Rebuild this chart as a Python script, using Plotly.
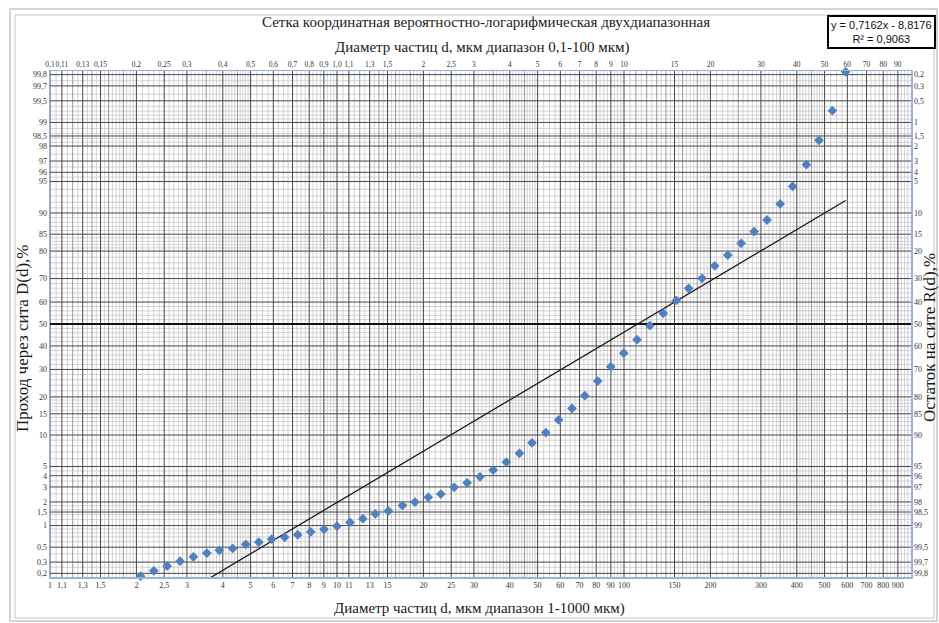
import plotly.graph_objects as go
from statistics import NormalDist

nd = NormalDist()

# ---------------- data ----------------
diam_um = [2.07, 2.30, 2.56, 2.84, 3.16, 3.52, 3.89, 4.33, 4.81, 5.34,
           5.92, 6.57, 7.30, 8.10, 9.01, 10.0, 11.1, 12.3, 13.6, 15.1,
           16.9, 18.7, 20.8, 23.0, 25.6, 28.4, 31.5, 35.0, 38.9, 43.2,
           47.8, 53.4, 59.2, 65.9, 73.0, 81.0, 89.9, 99.8, 111, 123,
           137, 152, 168, 187, 207, 230, 256, 284, 315, 350,
           387, 432, 478, 532, 592]
passing_pct = [0.18, 0.22, 0.26, 0.31, 0.36, 0.41, 0.45, 0.48, 0.55, 0.59,
               0.65, 0.69, 0.75, 0.82, 0.89, 0.98, 1.10, 1.23, 1.42, 1.55,
               1.81, 1.99, 2.27, 2.48, 2.97, 3.34, 3.89, 4.59, 5.55, 6.77,
               8.52, 10.5, 13.4, 16.5, 20.4, 25.5, 31.1, 36.8, 42.8, 49.2,
               54.9, 60.7, 66.0, 70.1, 74.9, 78.7, 82.4, 85.7, 88.5, 91.7,
               94.4, 96.7, 98.3, 99.31, 99.82]

# linear trendline (as drawn in the picture), endpoints over the data range
trend_d = [2.07, 592]
trend_pct = [0.033, 92.3]

bottom_ticks = [1, 1.1, 1.3, 1.5, 2, 2.5, 3, 4, 5, 6, 7, 8, 9,
                10, 11, 13, 15, 20, 25, 30, 40, 50, 60, 70, 80, 90,
                100, 150, 200, 300, 400, 500, 600, 700, 800, 900]
bottom_text = ["1", "1,1", "1,3", "1,5", "2", "2,5", "3", "4", "5", "6", "7", "8", "9",
               "10", "11", "13", "15", "20", "25", "30", "40", "50", "60", "70", "80", "90",
               "100", "150", "200", "300", "400", "500", "600", "700", "800", "900"]
top_ticks = [0.1, 0.11, 0.13, 0.15, 0.2, 0.25, 0.3, 0.4, 0.5, 0.6, 0.7, 0.8, 0.9,
             1.0, 1.1, 1.3, 1.5, 2, 2.5, 3, 4, 5, 6, 7, 8, 9,
             10, 15, 20, 30, 40, 50, 60, 70, 80, 90]
top_text = ["0,1", "0,11", "0,13", "0,15", "0,2", "0,25", "0,3", "0,4", "0,5", "0,6", "0,7", "0,8", "0,9",
            "1,0", "1,1", "1,3", "1,5", "2", "2,5", "3", "4", "5", "6", "7", "8", "9",
            "10", "15", "20", "30", "40", "50", "60", "70", "80", "90"]
left_pct = [99.8, 99.7, 99.5, 99, 98.5, 98, 97, 96, 95, 90, 85, 80, 70, 60, 50,
            40, 30, 20, 15, 10, 5, 4, 3, 2, 1.5, 1, 0.5, 0.3, 0.2]
left_text = ["99,8", "99,7", "99,5", "99", "98,5", "98", "97", "96", "95", "90", "85", "80", "70", "60", "50",
             "40", "30", "20", "15", "10", "5", "4", "3", "2", "1,5", "1", "0,5", "0,3", "0,2"]
right_pct = [0.2, 0.3, 0.5, 1, 1.5, 2, 3, 4, 5, 10, 15, 20, 30, 40, 50, 60, 70,
             80, 85, 90, 95, 96, 97, 98, 98.5, 99, 99.5, 99.7, 99.8]
right_text = ["0,2", "0,3", "0,5", "1", "1,5", "2", "3", "4", "5", "10", "15", "20", "30", "40", "50", "60", "70",
              "80", "85", "90", "95", "96", "97", "98", "98,5", "99", "99,5", "99,7", "99,8"]

# ---------------- helpers ----------------
def probit(p_pct):
    return nd.inv_cdf(p_pct / 100.0)

Z_LIM = 2.92
X_LOG = [0, 3]

W, H = 939, 623
ML, MR, MT, MB = 50, 28, 71, 46
PW, PH = W - ML - MR, H - MT - MB

def fx(xp):
    return (xp - ML) / PW

def fy(yp):
    return (H - MB - yp) / PH

def frange(a, b, s):
    out, v = [], a + s
    while v < b - 1e-9:
        out.append(round(v, 6))
        v += s
    return out

def contains(lst, v):
    return any(abs(v - t) < 1e-6 * max(1, abs(t)) for t in lst)

# ---------------- grid ----------------
dark_v = list(bottom_ticks)
medium_v, light_v = [], []
for dec in (1, 10, 100):
    for m in [1.1, 1.2, 1.3, 1.4, 1.6, 1.8, 2.5, 3.5, 4.5]:
        v = round(m * dec, 6)
        if not contains(dark_v, v):
            medium_v.append(v)
    for a, b, s in [(1, 2, 0.05), (2, 5, 0.1), (5, 10, 0.25)]:
        for m in frange(a, b, s):
            v = round(m * dec, 6)
            if not contains(dark_v, v) and not contains(medium_v, v):
                light_v.append(v)

dark_h = [p for p in left_pct if p != 50]
light_base = [0.25, 0.4, 0.6, 0.7, 0.8, 0.9, 1.2, 1.4, 1.6, 1.8, 2.5, 3.5, 4.5,
              6, 7, 8, 9, 11, 12, 13, 14, 16, 17, 18, 19, 22, 24, 26, 28,
              32, 34, 36, 38, 42, 44, 46, 48]
light_h = light_base + [round(100 - v, 6) for v in light_base]


def grid_xy(vlist, hlist):
    xs, ys = [], []
    for v in vlist:
        xs += [v, v, None]
        ys += [-Z_LIM, Z_LIM, None]
    for p in hlist:
        z = probit(p)
        xs += [1, 1000, None]
        ys += [z, z, None]
    return xs, ys


fig = go.Figure()

for vl, hl, col, wid in [(light_v, light_h, "#c6c6c6", 0.8),
                         (medium_v, [], "#8c8c8c", 0.9),
                         (dark_v, dark_h, "#474747", 1.0),
                         ([], [50], "#111111", 2.0)]:
    gx, gy = grid_xy(vl, hl)
    fig.add_trace(go.Scatter(x=gx, y=gy, mode="lines",
                             line=dict(color=col, width=wid),
                             hoverinfo="skip", showlegend=False))

# trendline
fig.add_trace(go.Scatter(x=trend_d, y=[probit(p) for p in trend_pct], mode="lines",
                         line=dict(color="#1a1a1a", width=1.3),
                         hoverinfo="skip", showlegend=False))

# data points
fig.add_trace(go.Scatter(x=diam_um, y=[probit(p) for p in passing_pct], mode="markers",
                         marker=dict(symbol="diamond", size=7.5, color="#4F81BD",
                                     line=dict(width=0)),
                         cliponaxis=False, showlegend=False))

# empty trace so that the top / right scales are drawn
fig.add_trace(go.Scatter(x=[], y=[], xaxis="x2", yaxis="y2", mode="markers",
                         hoverinfo="skip", showlegend=False))

tick_font = dict(family="Liberation Serif", size=8, color="#333333")
top_font = dict(family="Liberation Serif", size=7.5, color="#333333")
axis_line = dict(showline=True, linecolor="#95b3d7", linewidth=1.5)

fig.update_layout(
    width=W, height=H,
    margin=dict(l=ML, r=MR, t=MT, b=MB, pad=0),
    paper_bgcolor="white", plot_bgcolor="white",
    showlegend=False, hovermode=False,
    xaxis=dict(type="log", range=X_LOG, side="bottom", tickmode="array",
               tickvals=bottom_ticks, ticktext=bottom_text, tickangle=0,
               showgrid=False, zeroline=False, ticks="", tickfont=tick_font,
               **axis_line),
    xaxis2=dict(type="log", range=[X_LOG[0] - 1, X_LOG[1] - 1], side="top",
                overlaying="x", anchor="y2", tickmode="array",
                tickvals=top_ticks, ticktext=top_text, tickangle=0,
                showgrid=False, zeroline=False, ticks="", tickfont=top_font,
                **axis_line),
    yaxis=dict(range=[-Z_LIM, Z_LIM], side="left", tickmode="array",
               tickvals=[probit(p) for p in left_pct], ticktext=left_text,
               showgrid=False, zeroline=False, ticks="", tickfont=tick_font,
               **axis_line),
    yaxis2=dict(range=[-Z_LIM, Z_LIM], side="right", overlaying="y", anchor="x2",
                tickmode="array",
                tickvals=[probit(100 - r) for r in right_pct], ticktext=right_text,
                showgrid=False, zeroline=False, ticks="", tickfont=tick_font,
                **axis_line),
)

serif = "Liberation Serif"
ann = [
    dict(x=fx(486), y=fy(22), text="Сетка координатная вероятностно-логарифмическая двухдиапазонная",
         font=dict(family=serif, size=15, color="#1a1a1a")),
    dict(x=fx(482), y=fy(47), text="Диаметр частиц d, мкм диапазон 0,1-100 мкм)",
         font=dict(family=serif, size=15, color="#1a1a1a")),
    dict(x=fx(479), y=fy(608), text="Диаметр частиц d, мкм диапазон 1-1000 мкм)",
         font=dict(family=serif, size=15, color="#1a1a1a")),
    dict(x=fx(22), y=fy(338), text="Проход через сита D(d),%", textangle=-90,
         font=dict(family=serif, size=17, color="#1a1a1a")),
    dict(x=fx(929), y=fy(338), text="Остаток на сите R(d),%", textangle=-90,
         font=dict(family=serif, size=17, color="#1a1a1a")),
]
for a in ann:
    a.update(xref="paper", yref="paper", showarrow=False, xanchor="center", yanchor="middle")
    fig.add_annotation(**a)

fig.add_annotation(xref="paper", yref="paper", x=fx(827), y=fy(15), xanchor="left", yanchor="top",
                   showarrow=False, align="center",
                   text="y = 0,7162x - 8,8176<br>R² = 0,9063",
                   font=dict(family="Liberation Sans", size=11, color="#111111"),
                   bgcolor="white", bordercolor="#000000", borderwidth=2, borderpad=2)

# chart-area frame
fig.add_shape(type="rect", xref="paper", yref="paper",
              x0=fx(10), x1=fx(937), y0=fy(621), y1=fy(9),
              line=dict(color="#d4d4d4", width=2), layer="below")
fig.add_shape(type="rect", xref="paper", yref="paper",
              x0=fx(15), x1=fx(934), y0=fy(618), y1=fy(15),
              line=dict(color="#c4c4c4", width=1), layer="below")

fig.write_html("out.html",
               config={"displayModeBar": False, "staticPlot": True},
               post_script="document.body.style.margin='0';document.body.style.overflow='hidden';")
